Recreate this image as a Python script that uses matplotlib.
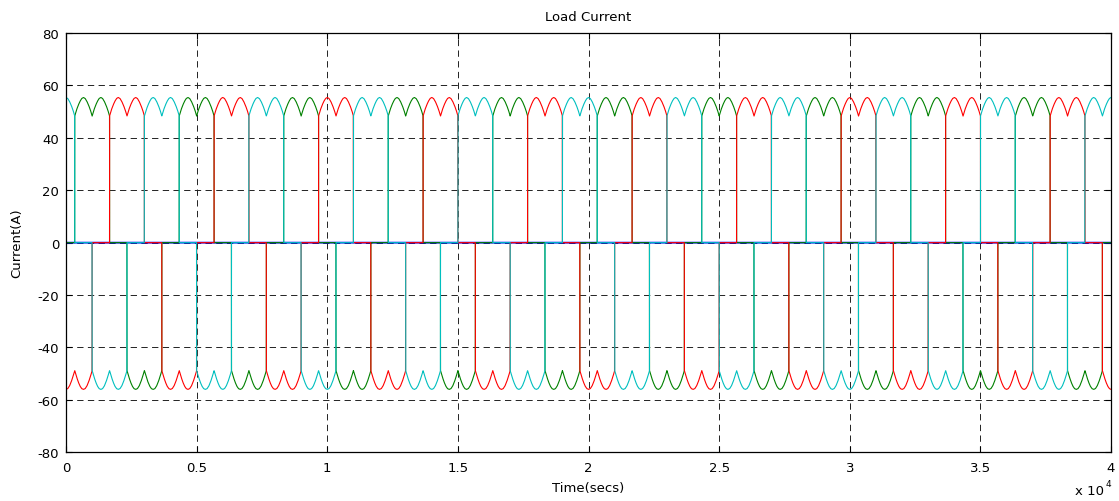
import numpy as np
import matplotlib
matplotlib.use('Agg')
import matplotlib.pyplot as plt

plt.rcParams['font.family'] = ['DejaVu Sans']
plt.rcParams['axes.unicode_minus'] = False

# switching pattern of one phase (120 deg conduction), time units
period = 4000.0
pos_on, pos_off = 333.3, 1666.7
neg_on, neg_off = 2333.3, 3666.7
phase_offsets = [0.0, 1333.3, 2666.7]        # green, red, cyan
phase_colors = ['#008000', '#ff0000', '#00bfbf']

# six-pulse ripple, one 60 deg interval (cusp -> cusp)
hump_u = [0.0, 0.1, 0.2, 0.3, 0.4, 0.5, 0.6, 0.7, 0.8, 0.9, 1.0]
top_hump = [48.3, 50.6, 52.4, 53.9, 55.0, 55.4, 55.0, 53.9, 52.4, 50.6, 48.3]
bot_hump = [-48.8, -51.1, -53.1, -54.7, -55.7, -56.0, -55.7, -54.7, -53.1, -51.1, -48.8]
hump_len = 666.7
hump_start = 333.3

# first sample of each phase (start-up)
start_vals = [0.0, 0.0, 62.0]

t_end = 40000
xticks = [0, 5000, 10000, 15000, 20000, 25000, 30000, 35000, 40000]
xtick_labels = ['0', '0.5', '1', '1.5', '2', '2.5', '3', '3.5', '4']
yticks = [-80, -60, -40, -20, 0, 20, 40, 60, 80]

t = np.arange(0, t_end + 1, 5.0)
u = np.mod(t - hump_start, hump_len) / hump_len
top = np.interp(u, hump_u, top_hump)
bot = np.interp(u, hump_u, bot_hump)

fig = plt.figure(figsize=(11.19, 5.02), dpi=100)
ax = fig.add_axes([0.059, 0.097, 0.9339, 0.8353])

ax.plot(t, np.zeros_like(t), color='#0000ff', lw=1.3)
for off, col, s0 in zip(phase_offsets, phase_colors, start_vals):
    loc = np.mod(t - off, period)
    i = np.zeros_like(t)
    pos = (loc >= pos_on) & (loc < pos_off)
    neg = (loc >= neg_on) & (loc < neg_off)
    i[pos] = top[pos]
    i[neg] = bot[neg]
    i[0] = s0
    ax.plot(t, i, color=col, lw=0.8)

ax.set_xlim(0, t_end)
ax.set_ylim(-80, 80)
ax.set_xticks(xticks)
ax.set_xticklabels(xtick_labels)
ax.set_yticks(yticks)
ax.grid(True, color='#222222', lw=0.7, linestyle=(0, (6.5, 4.5)))
ax.tick_params(direction='in', top=True, right=True, length=4, width=0.8,
               labelsize=9.5)
ax.tick_params(axis='x', pad=6)
ax.tick_params(axis='y', pad=5)
for sp in ax.spines.values():
    sp.set_linewidth(0.9)

ax.set_title('Load Current', fontsize=9.5, pad=9)
ax.set_xlabel('Time(secs)', fontsize=9.5)
ax.xaxis.set_label_coords(0.5, -0.068)
ax.set_ylabel('Current(A)', fontsize=9.5)
ax.yaxis.set_label_coords(-0.041, 0.5)
ax.text(0.9933, -0.076, 'x 10', transform=ax.transAxes, ha='right',
        va='top', fontsize=9.5)
ax.text(0.9952, -0.063, '4', transform=ax.transAxes, ha='left',
        va='top', fontsize=6.5)

fig.savefig('out.png', dpi=100)
